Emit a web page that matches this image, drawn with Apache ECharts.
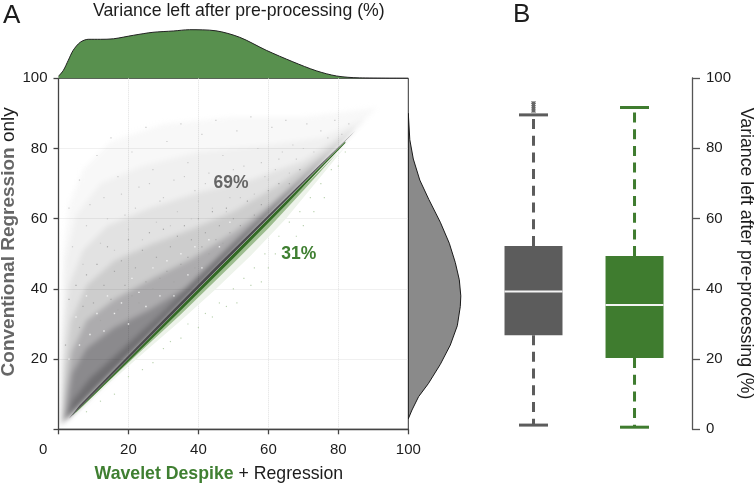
<!DOCTYPE html>
<html><head><meta charset="utf-8">
<style>html,body{margin:0;padding:0;background:#fff}
#wrap{position:relative;width:756px;height:485px;overflow:hidden}
#wrap>div{position:absolute;left:0;top:0;width:756px;height:485px}
#cloud{filter:blur(2.6px);mix-blend-mode:multiply;clip-path:inset(79px 348px 56px 59px)}
</style>
<script src="https://cdn.jsdelivr.net/npm/echarts@6/dist/echarts.min.js"></script>
</head><body><div id="wrap"><div id="c"></div><div id="cloud"></div><div id="top"></div></div>
<script>
const tickValues=[0,20,40,60,80,100];
const topDensity=[[0,2],[1.4,8],[2.8,18],[4.2,28],[6.2,36],[8.5,39],[12,39],[15.7,39.5],[21.4,43],[27,46],[32.8,47.3],[37.5,48.6],[45,47.5],[51.8,41],[59.4,28],[67,16.5],[73.7,7.5],[79.5,2.3],[86,0.4],[100,0]];
const rightDensity=[[0,3],[3.7,5.5],[10.3,9.3],[20,13],[32,18.5],[42,24],[49,29.5],[52,35],[52.5,38],[51,42.6],[47,47.5],[41,53],[32,59],[20.5,65.5],[11.5,71],[5,77],[1.5,82.5],[0,90]];
const boxCategories=["Conventional Regression only","Wavelet Despike + Regression"];
const boxStats=[[0,1.2,26.8,39.2,52.2,89.5],[1,0.6,20.3,35.4,49.3,91.6]];
const boxOutliers=[90.3,90.9,91.5,92.1,92.7,93.2];

const greenFaint=[[5,4.4],[15,13.6],[25,22.4],[35,31],[45,40],[55,49.5],[65,60],[75,72],[82,80.5],[5,5]];
const greenLight=[[5,4.7],[15,14.3],[25,23.6],[35,32.8],[50,47.3],[60,57.3],[70,68],[80,79],[5,5]];
const greenDark=[[4,3.9],[10,9.6],[20,19.3],[35,33.9],[50,48.7],[65,63.9],[75,74.4],[82,81.6],[82,82],[4,4]];
const cloudL1=[[0.3,0.6],[0.6,28],[1.2,50],[3,64],[7,74],[15,82],[30,87],[50,89],[70,89],[91,91.6]];
const cloudL2=[[0.4,0.8],[1,28],[2,48],[5,61],[12,70],[24,75],[40,79],[60,81],[75,83],[88,88.6]];
const cloudL3=[[0.6,1],[1.4,24],[3,41],[7,51],[14,58],[26,63],[40,67.5],[55,71],[70,76.5],[85,86.3]];
const cloudL4=[[0.9,1.4],[1.8,18],[3.6,31],[8,41],[16,48],[26,52.5],[38,57],[50,62],[62,69],[75,77.8],[85,85.7]];
const cloudL5=[[1.3,2],[2.3,12],[3.8,22],[8,31],[16,37],[27,43],[38,48.5],[50,56],[60,63.5],[70,72],[82,82.6]];
const cloudL6=[[2,2.6],[2.8,8],[4,16],[8,23],[16,29],[26,34],[36,40],[46,48.5],[56,58],[66,67.8],[75,76]];
const cloudL7=[[2.5,3],[4,8],[9,14.5],[18,22.5],[30,33.5],[40,43.5],[50,53],[65,66.8],[78,78.7]];
const cloudL8=[[3,3.1],[6,6.8],[15,16],[30,31.2],[45,46.3],[60,61],[75,75.6],[85,85.2]];
const softLevels=[[cloudL1,"#f8f8f8"],[cloudL2,"#f0f0f0"],[cloudL3,"#e2e2e2"],[cloudL4,"#cdcdcd"],[cloudL5,"#adacae"],[cloudL6,"#8b8a8d"],[cloudL7,"#6f6e71"]];
const sharpLevels=[[greenFaint,"#edf3ea"],[greenLight,"#9dbd8f"],[greenDark,"#336b25"],[cloudL8,"#4b4a4d"]];
const speckleLight=[[3,63],[6,71],[8,58],[11,78],[13,66],[15,83],[17,72],[19,61],[21,79],[23,69],[25,86],[27,74],[29,65],[31,82],[33,71],[35,87],[37,76],[39,68],[41,84],[43,73],[45,88],[47,78],[49,66],[51,85],[53,75],[55,89],[57,80],[59,72],[61,86],[63,77],[65,88],[67,81],[69,74],[71,87],[73,79],[75,85],[77,83],[79,88],[81,84],[83,87],
 [4,52],[7,47],[9,64],[12,53],[14,60],[16,51],[18,67],[20,57],[22,63],[24,54],[26,70],[28,59],[30,66],[32,58],[34,62],[36,72],[38,60],[40,65],[42,70],[44,63],[46,69],[48,62],[50,74],[52,66],[54,70],[56,67],[58,76],[60,71],[62,74],[64,79],[66,73],[68,77],[70,80]];
const speckleMid=[[2,24],[3,37],[5,41],[6,29],[7,35],[8,44],[10,36],[11,47],[12,31],[13,41],[14,52],[15,37],[16,45],[17,34],[18,48],[19,41],[20,54],[21,38],[22,46],[23,36],[24,51],[25,42],[26,56],[27,40],[28,49],[29,43],[30,57],[31,45],[32,52],[33,42],[34,55],[35,47],[36,58],[37,49],[38,54],[39,46],[40,60],[41,52],[42,56],[43,50],[44,62],[45,54],[46,58],[47,53],[48,63],[49,56],[50,60],[52,58],[54,65],[56,61],[58,64],[60,68],[63,70],[66,70],[69,74]];
const speckleWhite=[[3,20],[5,32],[6,24],[8,38],[9,27],[11,33],[13,28],[14,38],[16,33],[18,36],[20,30],[21,43],[23,39],[25,35],[27,46],[29,38],[31,48],[33,38],[35,50],[37,44],[39,52],[41,46],[43,54],[46,52],[49,59]];
const speckleGreen=[[8,5],[12,8],[16,10],[20,15],[24,17],[27,19],[30,23],[32,25],[35,26],[37,30],[40,29],[42,33],[44,32],[46,36],[48,35],[50,40],[51,36],[53,43],[55,41],[56,46],[58,42],[59,50],[60,46],[62,50],[63,55],[65,52],[66,59],[68,55],[69,62],[70,58],[72,66],[73,62],[75,70],[76,66],[78,74],[80,75],[82,79]];

const K="#1c1c1c",AX="#444",GREY="#666",GREEN="#3f7f31",FS=15,FF='Liberation Sans';
const PLOT={left:58.5,top:78.3,width:349.8,height:351,outerBoundsMode:'none'};
function poly(points,fill,stroke,xi,yi){return {type:'custom',xAxisIndex:xi,yAxisIndex:yi,silent:true,data:points,clip:true,
 renderItem(p,api){ if(p.dataIndex!==0) return null;
  return {type:'polygon',shape:{points:points.map(q=>api.coord(q))},style:{fill:fill,stroke:stroke||null,lineWidth:1}};}};}
function dots(d,color,size){return {type:'scatter',silent:true,symbol:'rect',symbolSize:size,data:d,itemStyle:{color:color,opacity:1},z:3};}
function note(t,x,y,color){return {type:'scatter',silent:true,symbolSize:0,data:[[x,y]],z:6,itemStyle:{opacity:1},
 label:{show:true,position:'inside',formatter:t,color:color,fontFamily:FF,fontWeight:'bold',fontSize:17.5}};}
const hidden={show:false};
const plain=(gi,min,max)=>({type:'value',gridIndex:gi,min,max,axisLine:hidden,axisTick:hidden,axisLabel:hidden,splitLine:hidden});
const lab={color:K,fontFamily:FF,fontSize:FS};
const dotted={show:true,showMinLine:false,showMaxLine:false,lineStyle:{color:'#e0e0e0',type:'dotted',width:1}};

const chart=echarts.init(document.getElementById('c'),null,{renderer:'canvas'});
chart.setOption({animation:false,backgroundColor:'#fff',
 grid:[
  Object.assign({},PLOT,{show:true,borderColor:'#333',borderWidth:1}),
  {left:58.5,top:20,width:349.8,height:58.3,outerBoundsMode:'none'},
  {left:408.3,top:78.3,width:70,height:351,outerBoundsMode:'none'},
  {left:483,top:78,width:209,height:351.3,outerBoundsMode:'none'}],
 xAxis:[
  {type:'value',gridIndex:0,min:0,max:100,interval:20,
   name:'{g|Wavelet Despike}{k| + Regression}',nameLocation:'middle',nameGap:36,
   nameTextStyle:{padding:[0,29,0,0],rich:{g:{color:GREEN,fontWeight:'bold',fontSize:17.7,fontFamily:FF},k:{color:K,fontSize:17.7,fontFamily:FF}}},
   axisLine:{onZero:false,lineStyle:{color:AX,width:1.3}},axisTick:{length:5,lineStyle:{color:AX,width:1.3}},
   axisLabel:Object.assign({},lab,{margin:13,formatter:v=>v===0?'':String(v),showMinLabel:true,showMaxLabel:true}),
   splitLine:dotted},
  plain(1,0,100),plain(2,0,70),plain(3,-0.5,1.569)],
 yAxis:[
  {type:'value',gridIndex:0,min:0,max:100,interval:20,
   name:'{g|Conventional Regression}{k| only}',nameLocation:'middle',nameGap:37,
   nameTextStyle:{padding:[0,0,0,24],rich:{g:{color:GREY,fontWeight:'bold',fontSize:19,fontFamily:FF},k:{color:K,fontSize:19,fontFamily:FF}}},
   axisLine:{onZero:false,lineStyle:{color:AX,width:1.3}},axisTick:{length:5,lineStyle:{color:AX,width:1.3}},
   axisLabel:Object.assign({},lab,{margin:11,formatter:v=>v===0?'':String(v),showMinLabel:true,showMaxLabel:true}),
   splitLine:dotted},
  plain(1,0,58.3),plain(2,0,100),
  {type:'value',gridIndex:3,min:0,max:100,interval:20,position:'right',
   name:'Variance left after pre-processing (%)',nameLocation:'middle',nameRotate:-90,nameGap:45,
   nameTextStyle:{color:K,fontSize:17.7,fontFamily:FF},
   axisLine:{show:true,onZero:false,lineStyle:{color:'#555',width:1.3}},axisTick:{show:true,length:8,lineStyle:{color:'#555',width:1.3}},
   axisLabel:Object.assign({},lab,{margin:14,showMinLabel:true,showMaxLabel:true}),splitLine:hidden}],
 series:[
  {type:'line',xAxisIndex:1,yAxisIndex:1,data:topDensity,smooth:0.3,symbol:'none',silent:true,
   lineStyle:{color:'#222',width:1},areaStyle:{color:'#58904e',opacity:1},z:4},
  Object.assign(poly(rightDensity,'#8a8a8a','#1a1a1a',2,2),{z:4}),
  {type:'custom',xAxisIndex:3,yAxisIndex:3,silent:true,data:boxStats,clip:false,
   renderItem(p,api){
    const i=api.value(0),lo=api.value(1),q1=api.value(2),m=api.value(3),q3=api.value(4),hi=api.value(5);
    const col=i===0?'#5c5c5c':'#3f7c2f';
    const bw=api.size([0.574,0])[0]/2,cw=14.5;
    const c=api.coord([i,0])[0],Y=v=>api.coord([i,v])[1];
    const kids=[];
    const ln=(x1,y1,x2,y2,w,dash,stroke)=>kids.push({type:'line',shape:{x1,y1,x2,y2},style:{stroke:stroke||col,lineWidth:w,lineDash:dash||null}});
    ln(c,Y(q3),c,Y(hi),3,[10,6.7]);
    ln(c,Y(q1),c,Y(lo),3,[10,6.7]);
    ln(c-cw,Y(hi),c+cw,Y(hi),3);
    ln(c-cw,Y(lo),c+cw,Y(lo),3);
    if(i===0) boxOutliers.forEach(v=>ln(c-2.5,Y(v),c+2.5,Y(v),1,null,'#777'));
    if(i===0) ln(c,Y(boxOutliers[0]),c,Y(boxOutliers[boxOutliers.length-1]),3,null,'#666');
    kids.push({type:'rect',shape:{x:c-bw,y:Y(q3),width:bw*2,height:Y(q1)-Y(q3)},style:{fill:col}});
    ln(c-bw,Y(m),c+bw,Y(m),2,null,'#f4f4f4');
    return {type:'group',children:kids};
   }}
 ],
 graphic:[
  {type:'text',left:3,top:3,style:{text:'A',fontSize:26,fontFamily:FF,fill:K}},
  {type:'text',left:513,top:2,style:{text:'B',fontSize:26,fontFamily:FF,fill:K}},
  {type:'text',left:93,top:2,style:{text:'Variance left after pre-processing (%)',fontSize:17.7,fontFamily:FF,fill:K}},
  {type:'text',left:39,top:442,style:{text:'0',fontSize:FS,fontFamily:FF,fill:K}}
 ]
});

const overlayAxes=()=>({grid:[PLOT],xAxis:[plain(0,0,100)],yAxis:[plain(0,0,100)]});
const soft=echarts.init(document.getElementById('cloud'),null,{renderer:'canvas'});
soft.setOption(Object.assign(overlayAxes(),{animation:false,backgroundColor:'transparent',
 series:softLevels.map(([pts,c])=>poly(pts,c,null,0,0))}));
const top2=echarts.init(document.getElementById('top'),null,{renderer:'canvas'});
top2.setOption(Object.assign(overlayAxes(),{animation:false,backgroundColor:'transparent',
 series:[
  ...sharpLevels.map(([pts,c])=>poly(pts,c,null,0,0)),
  dots(speckleLight,'#c9c9c9',1.2),dots(speckleMid,'#a5a5a5',1.2),dots(speckleWhite,'#f1f1f1',1.4),dots(speckleGreen,'#bcd3b2',1.2),
  note('69%',49.3,70.2,GREY),note('31%',68.7,50,GREEN)]}));
</script></body></html>
